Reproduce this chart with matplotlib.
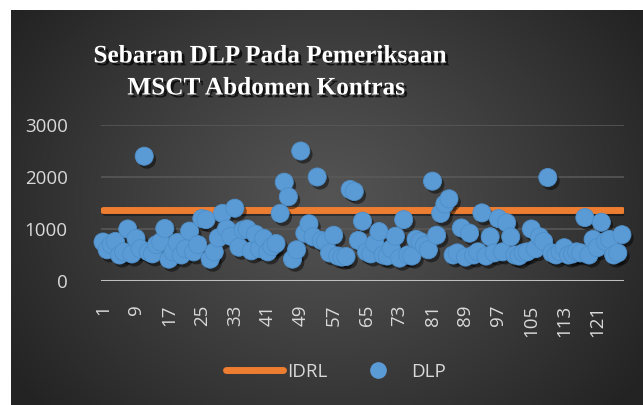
import numpy as np
import matplotlib
matplotlib.use('Agg')
import matplotlib.pyplot as plt
import matplotlib.patheffects as pe
from matplotlib.lines import Line2D

# ---------------- data ----------------
title_lines = ["Sebaran DLP Pada Pemeriksaan", "MSCT Abdomen Kontras"]
series_names = ["IDRL", "DLP"]
idrl_value = 1370
dlp = [
    750, 600, 700, 760, 500, 560, 1000, 520, 820, 620,
    2400, 560, 520, 700, 750, 1010, 420, 560, 740, 500,
    620, 960, 560, 700, 1200, 1180, 420, 560, 830, 1300,
    1000, 860, 1400, 650, 980, 1000, 580, 900, 620, 820,
    560, 660, 720, 1300, 1900, 1620, 420, 600, 2500, 920,
    1100, 850, 2000, 780, 760, 540, 880, 480, 460, 470,
    1760, 1720, 780, 1150, 560, 520, 720, 950, 500, 480,
    620, 860, 440, 1180, 500, 480, 800, 760, 680, 600,
    1920, 880, 1300, 1480, 1580, 500, 540, 1020, 460, 920,
    500, 560, 1310, 480, 850, 540, 1200, 560, 1120, 850,
    500, 480, 540, 560, 1000, 620, 850, 760, 1990, 540,
    500, 560, 640, 500, 520, 560, 540, 1220, 500, 800,
    640, 1130, 760, 800, 500, 540, 890,
]
y_ticks = [0, 1000, 2000, 3000]
x_tick_labels = [str(v) for v in range(1, 128, 8)]

# ---------------- figure ----------------
W, H = 643, 405
fig = plt.figure(figsize=(W / 100, H / 100), dpi=100, facecolor='white')

# radial gradient background panel
bg = fig.add_axes([11 / W, 0, 1 - 11 / W, (H - 10) / H])
bg.set_axis_off()
ny, nx = 200, 320
yy, xx = np.mgrid[0:1:ny * 1j, 0:1:nx * 1j]
r = np.sqrt(((xx - 0.5) * 1.0) ** 2 + ((yy - 0.52) * 0.75) ** 2)
t = np.clip(r / 0.6, 0, 1) ** 1.1
c0 = np.array([0.33, 0.33, 0.33])
c1 = np.array([0.14, 0.14, 0.14])
img = c0[None, None, :] * (1 - t[..., None]) + c1[None, None, :] * t[..., None]
bg.imshow(img, aspect='auto', extent=[0, 1, 0, 1], origin='lower')
bg.set_xlim(0, 1)
bg.set_ylim(0, 1)

# title
shadow = [pe.SimplePatchShadow(offset=(2, -2), shadow_rgbFace='black', alpha=0.7), pe.Normal()]
fig.text(270 / W, 1 - 56 / H, title_lines[0], ha='center', va='center',
         fontsize=18.2, fontweight='bold', family='Liberation Serif', color='white',
         path_effects=shadow)
fig.text(266 / W, 1 - 88 / H, title_lines[1], ha='center', va='center',
         fontsize=18.2, fontweight='bold', family='Liberation Serif', color='white',
         path_effects=shadow)

# main axes
ax = fig.add_axes([101 / W, (H - 281) / H, (624 - 101) / W, (281 - 125) / H])
ax.set_facecolor('none')
n = len(dlp)
cats = np.arange(1, n + 1)
ax.set_xlim(0.5, n + 0.5)
ax.set_ylim(0, 3000)
for s in ax.spines.values():
    s.set_visible(False)
ax.set_yticks(y_ticks)
ax.set_yticklabels([str(v) for v in y_ticks])
ax.set_xticks(np.arange(1, n + 1, 8))
ax.set_xticklabels(x_tick_labels, rotation=90)
ax.tick_params(axis='both', length=0, colors='#d9d9d9', labelsize=13.5)
ax.tick_params(axis='y', pad=24)
ax.tick_params(axis='x', pad=17)
for lab in ax.get_xticklabels() + ax.get_yticklabels():
    lab.set_family('Open Sans')
ax.set_axisbelow(True)
ax.grid(axis='y', color='#5a5a5a', lw=1.1)
ax.grid(axis='x', visible=False)
ax.axhline(0, color='#bfbfbf', lw=2.2, zorder=1)

line_shadow = [pe.SimpleLineShadow(offset=(1.5, -1.5), shadow_color='black', alpha=0.4), pe.Normal()]
ax.plot(cats, [idrl_value] * n, color='#ed7d31', lw=5, solid_capstyle='round',
        zorder=2, path_effects=line_shadow)
pt_shadow = [pe.SimplePatchShadow(offset=(2, -2.5), shadow_rgbFace='black', alpha=0.45), pe.Normal()]
ax.scatter(cats, dlp, s=170, color='#5b9bd5', edgecolors='#4f8fc9', linewidths=0.6,
           zorder=3, clip_on=False, path_effects=pt_shadow)

# legend
handles = [Line2D([0], [0], color='#ed7d31', lw=5, solid_capstyle='round'),
           Line2D([0], [0], marker='o', ls='none', color='#5b9bd5', markersize=11)]
leg = fig.legend(handles, series_names, loc='center', bbox_to_anchor=(336 / W, 1 - 372 / H),
                 ncol=2, frameon=False, handlelength=3.0, handletextpad=0.25,
                 columnspacing=1.2, prop={'family': 'Open Sans', 'size': 13.5})
for txt in leg.get_texts():
    txt.set_color('#d9d9d9')

fig.savefig('out.png', dpi=100, facecolor='white')
